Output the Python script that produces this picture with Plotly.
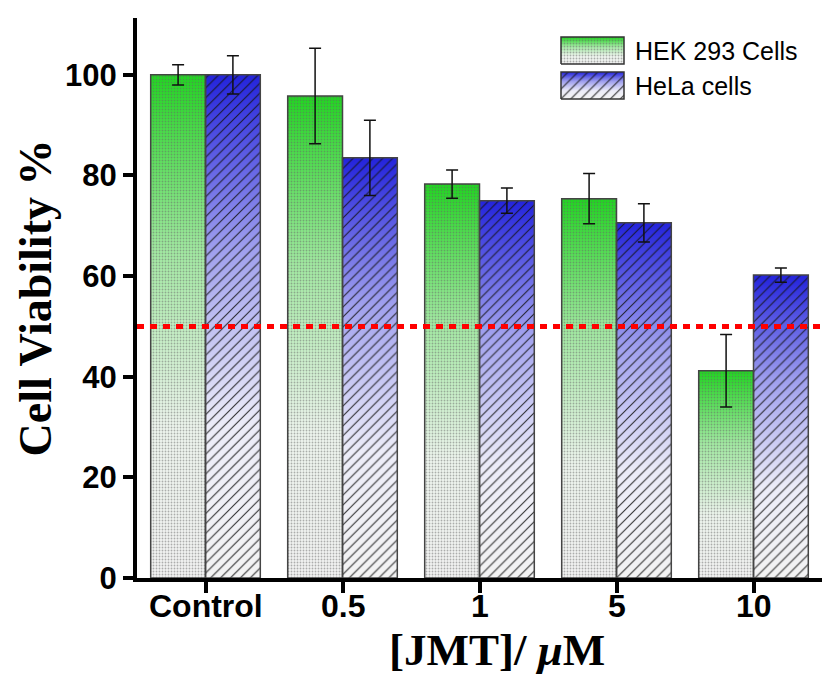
import plotly.graph_objects as go

categories = ["Control", "0.5", "1", "5", "10"]
hek = [100.0, 95.8, 78.3, 75.4, 41.2]
hek_err = [2.0, 9.5, 2.8, 5.0, 7.2]
hela = [100.0, 83.5, 75.0, 70.6, 60.2]
hela_err = [3.8, 7.5, 2.5, 3.8, 1.4]
series_names = ["HEK 293 Cells", "HeLa cells"]
x_title = "<b>[JMT]/ <i>μ</i>M</b>"
y_title = "<b>Cell Viability %</b>"
threshold = 50

pos = list(range(len(categories)))
BW = 0.4
YMAX = 111.3
green_scale = [[0, "#f3f3f3"], [0.3, "#eef6ee"], [0.65, "#a2eaa2"], [1, "#1fd81f"]]
blue_scale = [[0, "#f3f3f3"], [0.3, "#ececf8"], [0.65, "#a0a0ee"], [1, "#2323dc"]]
green_pat = dict(shape=".", size=3, solidity=0.3, fgcolor="#666", fgopacity=0.5)
blue_pat = dict(shape="/", size=7, solidity=0.16, fgcolor="#111", fgopacity=0.85)

fig = go.Figure()

# gradient fills per bar (bottom layer)
for vals, off, scale in [(hek, -BW, green_scale), (hela, 0.0, blue_scale)]:
    for p, v in zip(pos, vals):
        x0, x1 = p + off, p + off + BW
        fig.add_trace(go.Scatter(
            x=[x0, x1, x1, x0, x0], y=[0, 0, v, v, 0], mode="none",
            fill="toself", fillcolor="rgba(0,0,0,0)",
            fillgradient=dict(type="vertical", colorscale=scale, start=0, stop=v),
            showlegend=False, hoverinfo="skip"))

# bars with pattern, outline, error bars (overlay layer above the gradients)
for vals, errs, off, pat, name in [(hek, hek_err, -BW, green_pat, series_names[0]),
                                   (hela, hela_err, 0.0, blue_pat, series_names[1])]:
    fig.add_trace(go.Bar(
        x=pos, y=vals, width=BW, offset=off, name=name, xaxis="x2", yaxis="y2",
        marker=dict(color="rgba(0,0,0,0)", line=dict(color="#444", width=1.5),
                    pattern=dict(bgcolor="rgba(0,0,0,0)", **pat)),
        error_y=dict(type="data", array=errs, color="#111", thickness=1.5, width=6),
        showlegend=False))

# custom legend on overlay axes (fractions of plot area)
L, R, T, B = 137, 822, 18, 578
fx = lambda px: (px - L) / (R - L)
fy = lambda py: (B - py) / (B - T)
leg = [(37, 64, green_scale, green_pat), (72, 99, blue_scale, blue_pat)]
for (ty, by, scale, pat), name in zip(leg, series_names):
    x0, x1 = fx(561), fx(624)
    y0, y1 = fy(by), fy(ty)
    xs = [x0, x1, x1, x0, x0]
    ys = [y0, y0, y1, y1, y0]
    fig.add_trace(go.Scatter(x=xs, y=ys, mode="none", fill="toself",
                             fillcolor="rgba(0,0,0,0)",
                             fillgradient=dict(type="vertical", colorscale=scale, start=y0, stop=y1),
                             xaxis="x3", yaxis="y3", showlegend=False, hoverinfo="skip"))
    fig.add_trace(go.Scatter(x=xs, y=ys, mode="lines", fill="toself",
                             fillcolor="rgba(0,0,0,0)", line=dict(color="#333", width=1.5),
                             fillpattern=dict(bgcolor="rgba(0,0,0,0)", **pat),
                             xaxis="x3", yaxis="y3", showlegend=False, hoverinfo="skip"))
    fig.add_annotation(x=fx(633), y=(y0 + y1) / 2, xref="x3", yref="y3", text=name,
                       showarrow=False, xanchor="left", yanchor="middle",
                       font=dict(family="Liberation Sans", size=25, color="black"))

# x tick labels as annotations on the category positions
for p, c in zip(pos, categories):
    fig.add_annotation(x=p, y=0, xref="x", yref="y", text=c, showarrow=False,
                       xanchor="center", yanchor="middle", yshift=-28, borderpad=0,
                       font=dict(family="Liberation Sans", size=32, color="black", weight="bold"))

# x axis title
fig.add_annotation(x=0.525, y=fy(650), xref="paper", yref="paper", text=x_title,
                   showarrow=False, xanchor="center", yanchor="middle", borderpad=0,
                   font=dict(family="Liberation Serif", size=45, color="black"))

fig.add_shape(type="line", xref="paper", yref="y", x0=0, x1=1, y0=threshold, y1=threshold,
              line=dict(color="#ff0000", width=5, dash="7px,6px"))

fig.update_layout(
    width=828, height=677, margin=dict(l=L, r=828 - R, t=T, b=677 - B),
    paper_bgcolor="white", plot_bgcolor="white", barmode="overlay",
    xaxis=dict(range=[-0.5, 4.5], tickvals=pos, showticklabels=False,
               showline=True, linecolor="black", linewidth=4, ticks="outside",
               ticklen=11, tickwidth=4, tickcolor="black", showgrid=False, zeroline=False),
    yaxis=dict(range=[0, YMAX], tickvals=[0, 20, 40, 60, 80, 100],
               showline=True, linecolor="black", linewidth=4, ticks="outside",
               ticklen=10, tickwidth=4, tickcolor="black", showgrid=False, zeroline=False,
               tickfont=dict(family="Liberation Sans", size=31, color="black", weight="bold"),
               title=dict(text=y_title, standoff=0,
                          font=dict(family="Liberation Serif", size=46, color="black"))),
    xaxis2=dict(overlaying="x", range=[-0.5, 4.5], visible=False, fixedrange=True),
    yaxis2=dict(overlaying="y", range=[0, YMAX], visible=False, fixedrange=True),
    xaxis3=dict(overlaying="x", range=[0, 1], visible=False, fixedrange=True),
    yaxis3=dict(overlaying="y", range=[0, 1], visible=False, fixedrange=True),
    showlegend=False,
)

fig.write_html("out.html")
